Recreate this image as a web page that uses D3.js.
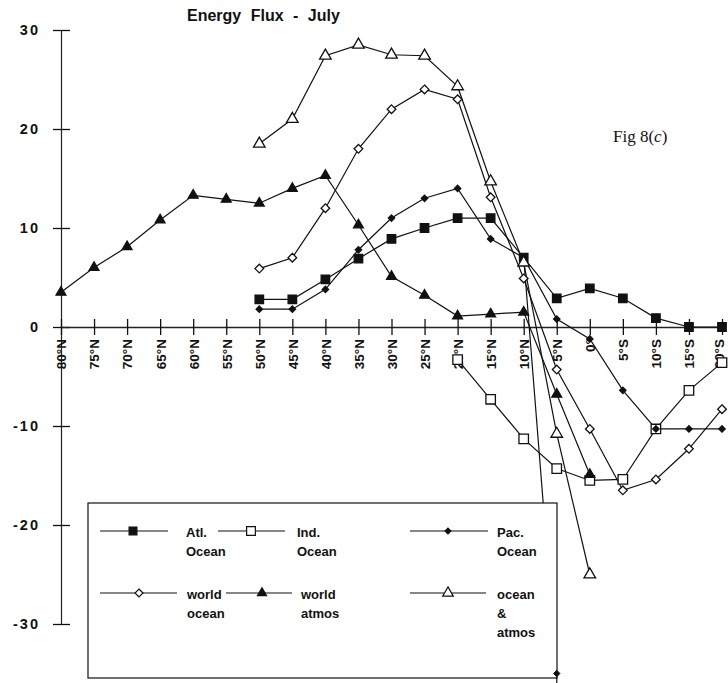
<!DOCTYPE html>
<html>
<head>
<meta charset="utf-8">
<script src="https://cdn.jsdelivr.net/npm/d3@7"></script>
<style>
  html, body { margin: 0; padding: 0; background: #fff; }
  svg { display: block; }
  .lab { font-family: "Liberation Sans", Arial, sans-serif; font-weight: bold; fill: #111; }
</style>
</head>
<body>
<script>
// Latitude bands from 80°N to 20°S (south negative)
const lats = [80, 75, 70, 65, 60, 55, 50, 45, 40, 35, 30, 25, 20, 15, 10, 5, 0, -5, -10, -15, -20];
const latLabels = ["80°N", "75°N", "70°N", "65°N", "60°N", "55°N", "50°N", "45°N", "40°N", "35°N",
  "30°N", "25°N", "20°N", "15°N", "10°N", "5°N", "0°", "5°S", "10°S", "15°S", "20°S"];
const yTicks = [30, 20, 10, 0, -10, -20, -30];

// Energy flux per band (null where a series has no value)
const atlOcean   = [null, null, null, null, null, null, 2.8, 2.8, 4.8, 6.9, 8.9, 10, 11, 11, 7, 2.9, 3.9, 2.9, 0.9, 0, 0];
const indOcean   = [null, null, null, null, null, null, null, null, null, null, null, null, -3.3, -7.3, -11.3, -14.3, -15.5, -15.4, -10.3, -6.4, -3.6];
const pacOcean   = [null, null, null, null, null, null, 1.8, 1.8, 3.8, 7.8, 11, 13, 14, 8.9, 7, 0.8, -1.2, -6.4, -10.3, -10.3, -10.3];
const pacSpur    = [null, null, null, null, null, null, null, null, null, null, null, null, null, null, 7, -35, null, null, null, null, null];
const worldOcean = [null, null, null, null, null, null, 5.9, 7, 12, 18, 22, 24, 23, 13.1, 4.9, -4.3, -10.3, -16.5, -15.4, -12.3, -8.3];
const worldAtmos = [3.5, 6, 8.1, 10.8, 13.3, 12.9, 12.5, 14, 15.3, 10.3, 5.1, 3.2, 1.1, 1.3, 1.5, -6.8, -14.9, null, null, null, null];
const oceanAtmos = [null, null, null, null, null, null, 18.5, 21, 27.4, 28.5, 27.5, 27.4, 24.3, 14.7, 6.5, -10.8, -25, null, null, null, null];

const W = 728, H = 683;
const svg = d3.select("body").append("svg").attr("width", W).attr("height", H);

const x = d3.scaleLinear().domain([80, -20]).range([61, 722]);
const y = d3.scaleLinear().domain([-30, 30]).range([624, 30]);

// Axes: ticks cross the axis line on both sides
const yAxis = svg.append("g").attr("transform", `translate(${x(80)},0)`)
  .call(d3.axisLeft(y).tickValues(yTicks).tickSizeInner(9).tickSizeOuter(0).tickFormat(d => d));
yAxis.selectAll(".tick line").attr("x2", 9).attr("x1", -8);
yAxis.selectAll(".tick text").attr("class", "lab").attr("x", -21)
  .style("font-size", "14.5px").style("letter-spacing", "2px").text(d => d < 0 ? "-" + Math.abs(d) : d);
yAxis.select(".domain").attr("stroke", "#222").attr("stroke-width", 1.2);
yAxis.selectAll(".tick line").attr("stroke", "#111").attr("stroke-width", 1.3);

const xAxis = svg.append("g").attr("transform", `translate(0,${y(0)})`)
  .call(d3.axisBottom(x).tickValues(lats).tickSizeOuter(0).tickSizeInner(8).tickFormat((d, i) => latLabels[i]));
xAxis.selectAll(".tick line").attr("y1", -8).attr("y2", 8).attr("stroke", "#111").attr("stroke-width", 1.3);
xAxis.select(".domain").attr("stroke", "#222").attr("stroke-width", 1.3);
xAxis.selectAll(".tick text").attr("class", "lab")
  .style("font-size", "13.5px")
  .attr("text-anchor", "end")
  .attr("transform", "rotate(-90)")
  .attr("x", -12).attr("y", (d, i) => i === lats.length - 1 ? -3 : 0).attr("dy", "0.36em");

// Title and figure tag
svg.append("text").attr("class", "lab").attr("x", 187).attr("y", 21)
  .style("font-size", "16px").style("word-spacing", "5px").text("Energy Flux - July");
const fig = svg.append("text").attr("x", 613).attr("y", 142)
  .style("font-family", "'Liberation Serif', 'Times New Roman', serif").style("font-size", "17px").attr("fill", "#111");
fig.append("tspan").text("Fig 8(");
fig.append("tspan").style("font-style", "italic").text("c");
fig.append("tspan").text(")");

// Marker shapes
const sym = {
  filledSquare: { type: d3.symbolSquare, size: 72, fill: "#111" },
  openSquare:   { type: d3.symbolSquare, size: 90, fill: "#fff" },
  filledDiamond:{ type: d3.symbolDiamond2, size: 26, fill: "#111" },
  openDiamond:  { type: d3.symbolDiamond2, size: 48, fill: "#fff" },
  filledTri:    { type: d3.symbolTriangle, size: 42, fill: "#111" },
  openTri:      { type: d3.symbolTriangle, size: 58, fill: "#fff" }
};

const series = [
  { name: ["Atl.", "Ocean"], values: atlOcean, m: sym.filledSquare },
  { name: ["Ind.", "Ocean"], values: indOcean, m: sym.openSquare },
  { name: ["Pac.", "Ocean"], values: pacOcean, m: sym.filledDiamond },
  { name: ["world", "ocean"], values: worldOcean, m: sym.openDiamond },
  { name: ["world", "atmos"], values: worldAtmos, m: sym.filledTri },
  { name: ["ocean", "&", "atmos"], values: oceanAtmos, m: sym.openTri }
];

const line = d3.line().defined(d => d.v !== null).x(d => x(d.lat)).y(d => y(d.v));
const pts = vals => vals.map((v, i) => ({ lat: lats[i], v }));

const plot = svg.append("g");
// Pacific spur line runs beneath the legend
plot.append("path").datum(pts(pacSpur)).attr("d", line)
  .attr("fill", "none").attr("stroke", "#111").attr("stroke-width", 1.2);
series.forEach(s => {
  plot.append("path").datum(pts(s.values)).attr("d", line)
    .attr("fill", "none").attr("stroke", "#111").attr("stroke-width", 1.2);
});
series.forEach(s => {
  plot.append("g").selectAll("path").data(pts(s.values).filter(d => d.v !== null)).join("path")
    .attr("transform", d => `translate(${x(d.lat)},${y(d.v)})`)
    .attr("d", d3.symbol().type(s.m.type).size(s.m.size))
    .attr("fill", s.m.fill).attr("stroke", "#111").attr("stroke-width", 1.3);
});

// Legend box
const lg = svg.append("g");
lg.append("rect").attr("x", 88).attr("y", 503).attr("width", 469).attr("height", 175)
  .attr("fill", "#fff").attr("stroke", "#111").attr("stroke-width", 1.2);
const slots = [
  { x1: 100, x2: 168, mx: 133, tx: 186, ly: 531 },
  { x1: 218, x2: 285, mx: 251, tx: 297, ly: 531 },
  { x1: 410, x2: 488, mx: 448, tx: 497, ly: 531 },
  { x1: 100, x2: 177, mx: 139, tx: 187, ly: 593 },
  { x1: 226, x2: 292, mx: 262, tx: 301, ly: 593 },
  { x1: 410, x2: 486, mx: 448, tx: 497, ly: 593 }
];
series.forEach((s, i) => {
  const sl = slots[i];
  lg.append("line").attr("x1", sl.x1).attr("x2", sl.x2).attr("y1", sl.ly).attr("y2", sl.ly)
    .attr("stroke", "#111").attr("stroke-width", 1.2);
  lg.append("path").attr("transform", `translate(${sl.mx},${sl.ly})`)
    .attr("d", d3.symbol().type(s.m.type).size(s.m.size * 0.85))
    .attr("fill", s.m.fill).attr("stroke", "#111").attr("stroke-width", 1.2);
  s.name.forEach((t, k) => {
    lg.append("text").attr("class", "lab").attr("x", sl.tx).attr("y", sl.ly + 6 + k * 19)
      .style("font-size", "13px").text(t);
  });
});

// Spur end marker sits on the legend edge
svg.append("g").selectAll("path").data(pts(pacSpur).filter(d => d.v !== null && d.v < -30)).join("path")
  .attr("transform", d => `translate(${x(d.lat)},${y(d.v)})`)
  .attr("d", d3.symbol().type(sym.filledDiamond.type).size(sym.filledDiamond.size))
  .attr("fill", "#111").attr("stroke", "#111");
svg.append("line").attr("x1", x(5)).attr("x2", x(5)).attr("y1", y(-35)).attr("y2", H)
  .attr("stroke", "#111").attr("stroke-width", 1.2);
</script>
</body>
</html>
